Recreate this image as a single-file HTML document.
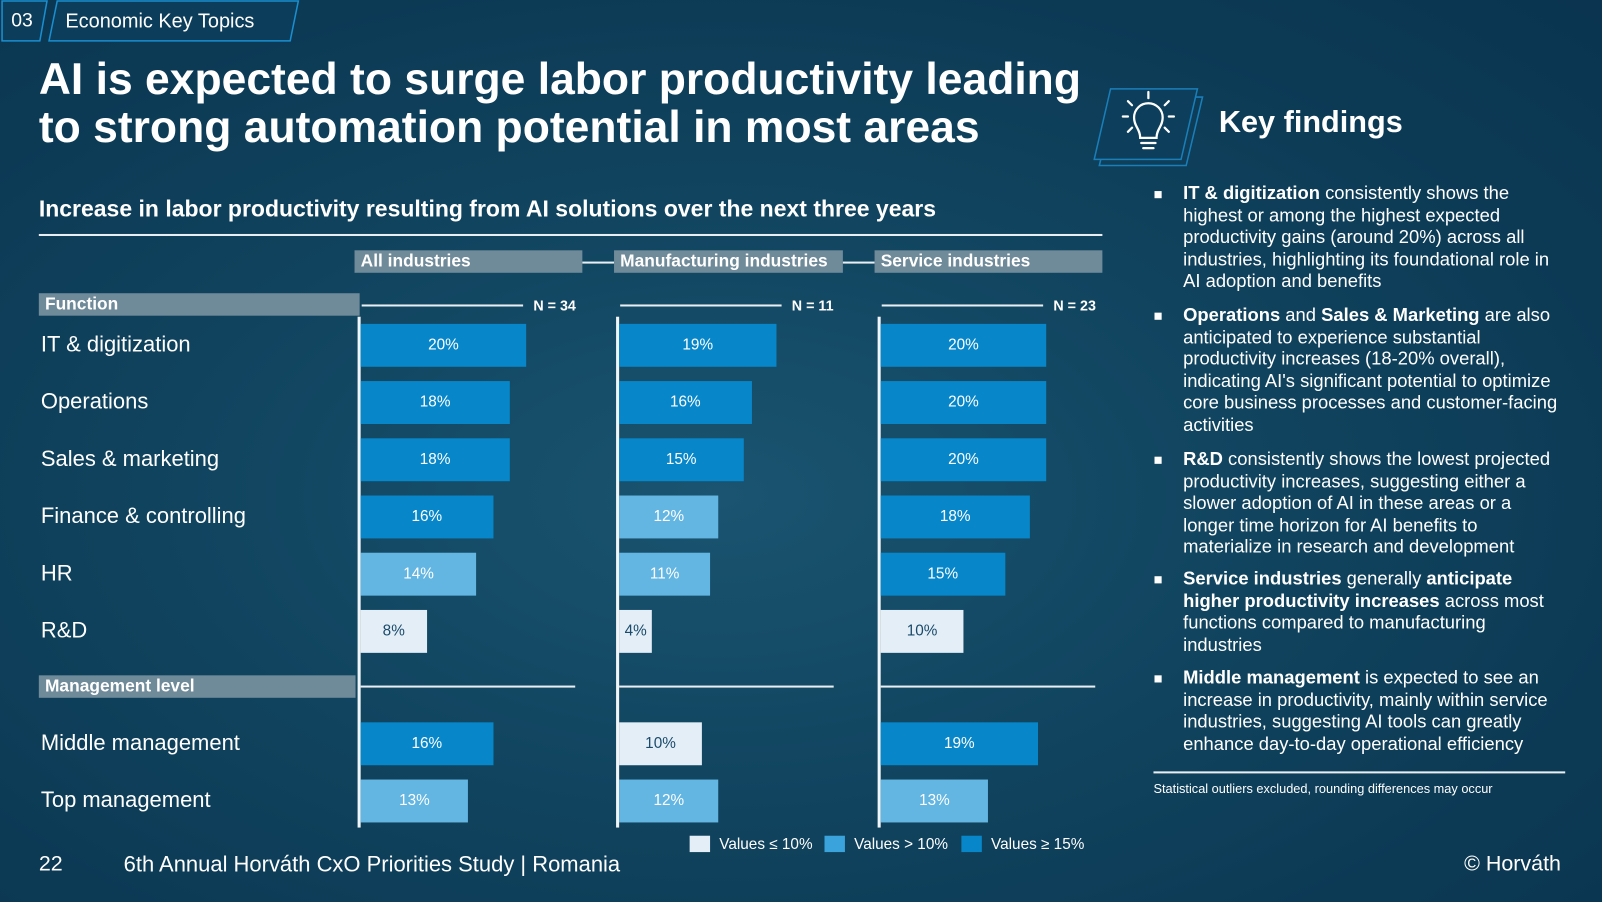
<!DOCTYPE html>
<html><head><meta charset="utf-8"><style>
html,body{margin:0;padding:0;width:1602px;height:902px;overflow:hidden;background:#0a0f14;}
#wrap{position:absolute;left:0;top:0;width:1568px;height:883px;transform:scale(1.02168);transform-origin:0 0;
background:radial-gradient(ellipse at 45% 55%,#1a5470 0%,#114560 40%,#0c3a55 75%,#0a3450 100%);font-family:"Liberation Sans",sans-serif;color:#fff;overflow:hidden;}
.abs{position:absolute;}
.t{position:absolute;white-space:nowrap;}
.hdr{background:#6f8a99;color:#fff;font-weight:bold;font-size:17px;line-height:22px;padding-left:6px;}
.kf{position:absolute;left:1158px;width:368px;font-size:18px;line-height:21.6px;}
.bul{position:absolute;left:1130px;width:7px;height:7px;background:#fff;}
</style></head><body>
<div id="wrap">
<svg class="abs" style="left:0;top:0" width="300" height="42">
<polygon points="2,1 46,1 39,40 2,40" fill="#0c3d5a" stroke="#1a8fd0" stroke-width="1.5"/>
<polygon points="56,1 292,1 284,40 48,40" fill="#0c3d5a" stroke="#1a8fd0" stroke-width="1.5"/>
</svg>
<div class="t" style="left:11px;top:10px;font-size:19px">03</div>
<div class="t" style="left:64px;top:10px;font-size:19.5px">Economic Key Topics</div>
<div class="t" style="left:38px;top:55px;font-size:43.5px;font-weight:bold;line-height:47px">AI is expected to surge labor productivity leading<br>to strong automation potential in most areas</div>
<div class="t" style="left:38px;top:192px;font-size:22.5px;font-weight:bold">Increase in labor productivity resulting from AI solutions over the next three years</div>
<div class="abs" style="left:38px;top:229px;width:1041px;height:2px;background:#e8eef2"></div>

<svg class="abs" style="left:1070px;top:70px" width="110" height="100">
<polygon points="22,25 107,25 91,92 6,92" fill="none" stroke="#1a7fb8" stroke-width="1.5"/>
<polygon points="17,17 102,17 86,86 1,86" fill="#0d3f5c" stroke="#1a7fb8" stroke-width="1.5"/>
<g stroke="#fff" stroke-width="2.2" fill="none" stroke-linecap="round">
<path d="M46,65 C46,56 40,54 40,45 A14,14 0 1 1 68,45 C68,54 62,56 62,65 Z"/>
<line x1="47" y1="70" x2="61" y2="70"/><line x1="49" y1="75" x2="59" y2="75"/>
<line x1="54" y1="20" x2="54" y2="26"/><line x1="34" y1="29" x2="38" y2="33"/><line x1="74" y1="29" x2="70" y2="33"/>
<line x1="29" y1="44" x2="34" y2="44"/><line x1="79" y1="44" x2="74" y2="44"/>
<line x1="34" y1="59" x2="38" y2="55"/><line x1="74" y1="59" x2="70" y2="55"/></g></svg>
<div class="t" style="left:1193px;top:103px;font-size:30px;font-weight:bold">Key findings</div>

<div class="bul" style="top:187px"></div>
<div class="kf" style="top:179px"><b>IT &amp; digitization</b> consistently shows the highest or among the highest expected productivity gains (around 20%) across all industries, highlighting its foundational role in AI adoption and benefits</div>
<div class="bul" style="top:306px"></div>
<div class="kf" style="top:298px"><b>Operations</b> and <b>Sales &amp; Marketing</b> are also anticipated to experience substantial productivity increases (18-20% overall), indicating AI's significant potential to optimize core business processes and customer-facing activities</div>
<div class="bul" style="top:447px"></div>
<div class="kf" style="top:439px"><b>R&amp;D</b> consistently shows the lowest projected productivity increases, suggesting either a slower adoption of AI in these areas or a longer time horizon for AI benefits to materialize in research and development</div>
<div class="bul" style="top:564px"></div>
<div class="kf" style="top:556px"><b>Service industries</b> generally <b>anticipate higher productivity increases</b> across most functions compared to manufacturing industries</div>
<div class="bul" style="top:661px"></div>
<div class="kf" style="top:653px"><b>Middle management</b> is expected to see an increase in productivity, mainly within service industries, suggesting AI tools can greatly enhance day-to-day operational efficiency</div>
<div class="abs" style="left:1129px;top:755px;width:403px;height:2px;background:#e8eef2"></div>
<div class="t" style="left:1129px;top:765px;font-size:12.5px">Statistical outliers excluded, rounding differences may occur</div>

<div class="t hdr" style="left:38px;top:287px;width:308px">Function</div>
<div class="t hdr" style="left:38px;top:661px;width:304px">Management level</div>

<div id="chart"></div>

<div class="abs" style="left:675px;top:818px;width:20px;height:16px;background:#e3eef7"></div>
<div class="t" style="left:704px;top:818px;font-size:15px">Values ≤ 10%</div>
<div class="abs" style="left:807px;top:818px;width:20px;height:16px;background:#3aa3dc"></div>
<div class="t" style="left:836px;top:818px;font-size:15px">Values &gt; 10%</div>
<div class="abs" style="left:941px;top:818px;width:20px;height:16px;background:#0787c9"></div>
<div class="t" style="left:970px;top:818px;font-size:15px">Values ≥ 15%</div>

<div class="t" style="left:38px;top:834px;font-size:21px">22</div>
<div class="t" style="left:121px;top:834px;font-size:21.5px">6th Annual Horváth CxO Priorities Study | Romania</div>
<div class="t" style="left:1433px;top:834px;font-size:21px">© Horváth</div>
</div>
<script>
const categories=["IT & digitization","Operations","Sales & marketing","Finance & controlling","HR","R&D","Middle management","Top management"];
const panels=["All industries","Manufacturing industries","Service industries"];
const sampleSizes=["N = 34","N = 11","N = 23"];
const allValues=[20,18,18,16,14,8,16,13];
const manuValues=[19,16,15,12,11,4,10,12];
const serviceValues=[20,20,20,18,15,10,19,13];
const series=[allValues,manuValues,serviceValues];

const wrap=document.getElementById('chart');
const axisX=[350,603,859];
const pxPer=8.1;
const rowY=[338,394,450,506,562,618,728,784];
const barH=42;
function xScale(p,v){return axisX[p]+3+v*pxPer;}
function colorFor(v){return v>=15?'#0787c9':(v>10?'#63b5e2':'#e3eef7');}
function mk(tag,css,name,txt){const e=document.createElement(tag);e.style.cssText='position:absolute;white-space:nowrap;'+css;


if(txt!==undefined)e.textContent=txt;wrap.appendChild(e);return e;}
categories.forEach((c,i)=>{mk('div','left:40px;top:'+(rowY[i]-13)+'px;font-size:21.5px;color:#fff;','category-label',c);});
const hdrL=[347,601,856],hdrW=[223,224,223];
panels.forEach((p,k)=>{
 mk('div','left:'+hdrL[k]+'px;top:245px;width:'+(hdrW[k]-6)+'px;background:#6f8a99;color:#fff;font-weight:bold;font-size:17px;line-height:22px;padding-left:6px;','panel-header',p);
 if(k<2)mk('div','left:'+(hdrL[k]+hdrW[k])+'px;top:256px;width:'+(hdrL[k+1]-hdrL[k]-hdrW[k])+'px;height:2px;background:#e8eef2;','header-connector');
 mk('div','left:'+(axisX[k]+4)+'px;top:298px;width:158px;height:2px;background:#e8eef2;','n-rule');
 mk('div','left:'+(axisX[k]+172)+'px;top:291px;font-size:14px;font-weight:bold;color:#fff;','sample-size',sampleSizes[k]);
 mk('div','left:'+axisX[k]+'px;top:310px;width:3px;height:500px;background:#f2f5f7;','panel-axis');
 mk('div','left:'+(axisX[k]+3)+'px;top:671px;width:210px;height:2px;background:#e8eef2;','mgmt-rule');
 series[k].forEach((v,i)=>{
  const x0=axisX[k]+3,x1=xScale(k,v);
  mk('div','left:'+x0+'px;top:'+(rowY[i]-barH/2)+'px;width:'+(x1-x0)+'px;height:'+barH+'px;background:'+colorFor(v)+';','bar');
  mk('div','left:'+x0+'px;top:'+(rowY[i]-9)+'px;width:'+(x1-x0)+'px;text-align:center;font-size:15px;color:'+(v<=10?'#1b4a6a':'#fff')+';','bar-value',v+'%');
 });
});
</script>
</body></html>
